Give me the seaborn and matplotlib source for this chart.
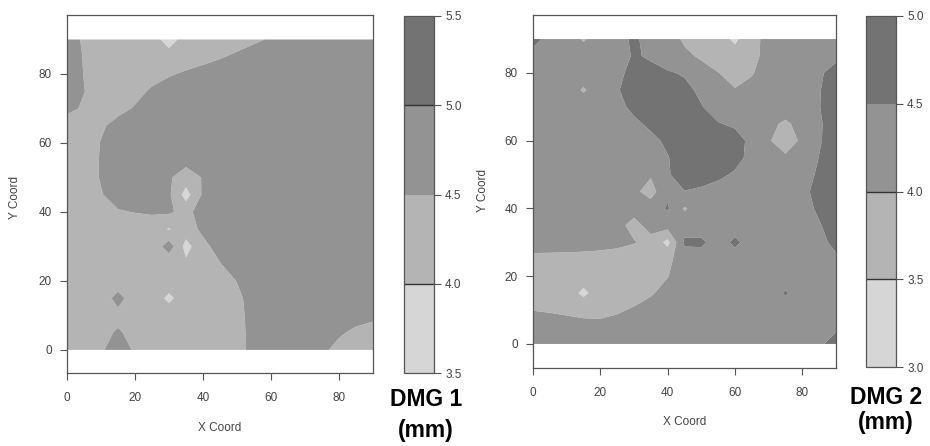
import numpy as np
import matplotlib
matplotlib.use("Agg")
import matplotlib.pyplot as plt
import seaborn as sns

# grid coordinates (X Coord / Y Coord), every 5 units
coords = [0, 5, 10, 15, 20, 25, 30, 35, 40, 45, 50, 55, 60, 65, 70, 75, 80, 85, 90]
axis_ticks = [0, 20, 40, 60, 80]

dmg1_levels = [3.5, 4.0, 4.5, 5.0, 5.5]
dmg2_levels = [3.0, 3.5, 4.0, 4.5, 5.0]
gray_fills = ["#d6d6d6", "#b4b4b4", "#939393", "#737373"]

# DMG 1 (mm), rows from Y=90 (top) down to Y=0, columns X=0..90
dmg1_rows = [
    [4.81, 4.41, 4.1, 4.1, 4.1, 4.1, 3.9, 4.1, 4.1, 4.1, 4.24, 4.40, 4.56, 4.73, 4.9, 4.9, 4.9, 4.9, 4.9],
    [4.86, 4.46, 4.1, 4.1, 4.1, 4.1, 4.1, 4.2, 4.32, 4.45, 4.61, 4.77, 4.9, 4.9, 4.9, 4.9, 4.9, 4.9, 4.9],
    [4.9, 4.48, 4.1, 4.1, 4.1, 4.25, 4.44, 4.58, 4.70, 4.83, 4.9, 4.9, 4.9, 4.9, 4.9, 4.9, 4.9, 4.9, 4.9],
    [4.9, 4.52, 4.12, 4.1, 4.29, 4.60, 4.79, 4.9, 4.9, 4.9, 4.9, 4.9, 4.9, 4.9, 4.9, 4.9, 4.9, 4.9, 4.9],
    [4.7, 4.4, 4.1, 4.3, 4.56, 4.82, 4.9, 4.9, 4.9, 4.9, 4.9, 4.9, 4.9, 4.9, 4.9, 4.9, 4.9, 4.9, 4.9],
    [4.1, 4.1, 4.40, 4.73, 4.9, 4.9, 4.9, 4.9, 4.9, 4.9, 4.9, 4.9, 4.9, 4.9, 4.9, 4.9, 4.9, 4.9, 4.9],
    [4.1, 4.13, 4.53, 4.9, 4.9, 4.9, 4.9, 4.9, 4.9, 4.9, 4.9, 4.9, 4.9, 4.9, 4.9, 4.9, 4.9, 4.9, 4.9],
    [4.1, 4.15, 4.55, 4.9, 4.9, 4.9, 4.8, 4.66, 4.78, 4.9, 4.9, 4.9, 4.9, 4.9, 4.9, 4.9, 4.9, 4.9, 4.9],
    [4.1, 4.15, 4.55, 4.9, 4.9, 4.9, 4.56, 4.26, 4.53, 4.9, 4.9, 4.9, 4.9, 4.9, 4.9, 4.9, 4.9, 4.9, 4.9],
    [4.1, 4.1, 4.46, 4.76, 4.9, 4.9, 4.58, 3.8, 4.58, 4.9, 4.9, 4.9, 4.9, 4.9, 4.9, 4.9, 4.9, 4.9, 4.9],
    [4.1, 4.1, 4.18, 4.45, 4.52, 4.57, 4.57, 4.34, 4.74, 4.9, 4.9, 4.9, 4.9, 4.9, 4.9, 4.9, 4.9, 4.9, 4.9],
    [4.1, 4.1, 4.1, 4.1, 4.14, 4.17, 3.97, 4.26, 4.61, 4.86, 4.9, 4.9, 4.9, 4.9, 4.9, 4.9, 4.9, 4.9, 4.9],
    [4.1, 4.1, 4.1, 4.1, 4.1, 4.1, 4.78, 3.82, 4.36, 4.7, 4.9, 4.9, 4.9, 4.9, 4.9, 4.9, 4.9, 4.9, 4.9],
    [4.1, 4.1, 4.1, 4.1, 4.1, 4.1, 4.1, 4.1, 4.2, 4.48, 4.76, 4.9, 4.9, 4.9, 4.9, 4.9, 4.9, 4.9, 4.9],
    [4.1, 4.1, 4.1, 4.1, 4.1, 4.1, 4.1, 4.1, 4.1, 4.21, 4.52, 4.82, 4.9, 4.9, 4.9, 4.9, 4.9, 4.9, 4.9],
    [4.1, 4.1, 4.1, 4.75, 4.1, 4.1, 3.96, 4.1, 4.1, 4.1, 4.36, 4.76, 4.9, 4.9, 4.9, 4.9, 4.9, 4.9, 4.9],
    [4.1, 4.1, 4.1, 4.3, 4.1, 4.1, 4.1, 4.1, 4.1, 4.1, 4.32, 4.72, 4.9, 4.9, 4.9, 4.9, 4.9, 4.74, 4.64],
    [4.1, 4.1, 4.3, 4.58, 4.3, 4.1, 4.1, 4.1, 4.1, 4.1, 4.3, 4.7, 4.9, 4.9, 4.9, 4.88, 4.58, 4.37, 4.25],
    [4.1, 4.1, 4.4, 4.9, 4.4, 4.1, 4.1, 4.1, 4.1, 4.1, 4.3, 4.7, 4.9, 4.9, 4.9, 4.62, 4.32, 4.1, 4.1],
]

# DMG 2 (mm), rows from Y=90 (top) down to Y=0, columns X=0..90
dmg2_rows = [
    [4.75, 4.25, 4.25, 3.95, 4.25, 4.34, 4.58, 4.33, 4.19, 3.94, 3.75, 3.75, 3.39, 3.875, 4.125, 4.25, 4.25, 4.25, 4.25],
    [4.25, 4.25, 4.25, 4.25, 4.25, 4.25, 4.56, 4.43, 4.28, 4.08, 3.945, 3.8, 3.75, 3.885, 4.135, 4.25, 4.25, 4.25, 4.39],
    [4.25, 4.25, 4.25, 4.25, 4.25, 4.39, 4.64, 4.65, 4.54, 4.46, 4.15, 4.01, 3.85, 3.97, 4.2, 4.25, 4.25, 4.43, 4.68],
    [4.25, 4.25, 4.25, 3.95, 4.25, 4.46, 4.72, 4.75, 4.75, 4.6, 4.42, 4.22, 4.02, 4.12, 4.25, 4.25, 4.25, 4.475, 4.72],
    [4.25, 4.25, 4.25, 4.25, 4.25, 4.385, 4.6, 4.75, 4.75, 4.75, 4.52, 4.33, 4.25, 4.25, 4.22, 4.19, 4.25, 4.485, 4.73],
    [4.25, 4.25, 4.25, 4.25, 4.25, 4.25, 4.42, 4.58, 4.7, 4.75, 4.68, 4.52, 4.44, 4.3, 4.09, 3.94, 4.13, 4.45, 4.7],
    [4.25, 4.25, 4.25, 4.25, 4.25, 4.25, 4.25, 4.4, 4.575, 4.7, 4.75, 4.75, 4.65, 4.4, 4.035, 3.8, 4.075, 4.46, 4.71],
    [4.25, 4.25, 4.25, 4.25, 4.25, 4.25, 4.25, 4.25, 4.48, 4.7, 4.75, 4.75, 4.63, 4.38, 4.15, 4.06, 4.17, 4.51, 4.75],
    [4.25, 4.25, 4.25, 4.25, 4.25, 4.25, 4.25, 4.055, 4.46, 4.7, 4.67, 4.585, 4.45, 4.3, 4.25, 4.25, 4.32, 4.57, 4.75],
    [4.25, 4.25, 4.25, 4.25, 4.25, 4.25, 4.11, 3.8, 4.42, 4.49, 4.435, 4.35, 4.3, 4.25, 4.25, 4.25, 4.39, 4.64, 4.75],
    [4.25, 4.25, 4.25, 4.25, 4.25, 4.25, 4.12, 4.25, 4.55, 3.95, 4.25, 4.25, 4.25, 4.25, 4.25, 4.25, 4.33, 4.58, 4.75],
    [4.25, 4.25, 4.25, 4.25, 4.25, 4.095, 3.9, 4.11, 4.2, 4.25, 4.25, 4.25, 4.25, 4.25, 4.25, 4.25, 4.25, 4.465, 4.71],
    [4.16, 4.16, 4.145, 4.135, 4.115, 4.09, 4.02, 3.9, 3.35, 4.6, 4.6, 4.25, 4.62, 4.25, 4.25, 4.25, 4.25, 4.39, 4.6],
    [3.91, 3.9, 3.9, 3.89, 3.875, 3.84, 3.8, 3.75, 3.91, 4.2, 4.25, 4.25, 4.25, 4.25, 4.25, 4.25, 4.25, 4.3, 4.435],
    [3.75, 3.75, 3.75, 3.75, 3.75, 3.75, 3.75, 3.75, 3.985, 4.25, 4.25, 4.25, 4.25, 4.25, 4.25, 4.25, 4.25, 4.25, 4.25],
    [3.75, 3.75, 3.75, 3.39, 3.75, 3.77, 3.83, 3.955, 4.15, 4.25, 4.25, 4.25, 4.25, 4.25, 4.25, 4.55, 4.25, 4.25, 4.25],
    [3.99, 3.96, 3.92, 3.88, 3.88, 3.95, 4.045, 4.17, 4.25, 4.25, 4.25, 4.25, 4.25, 4.25, 4.25, 4.25, 4.25, 4.25, 4.25],
    [4.25, 4.21, 4.17, 4.13, 4.11, 4.15, 4.25, 4.25, 4.25, 4.25, 4.25, 4.25, 4.25, 4.25, 4.25, 4.25, 4.25, 4.32, 4.425],
    [4.25, 4.25, 4.25, 4.25, 4.25, 4.25, 4.25, 4.25, 4.25, 4.25, 4.25, 4.25, 4.25, 4.25, 4.25, 4.25, 4.25, 4.425, 4.675],
]

sns.set_theme(style="white")
plt.rcParams["font.family"] = ["Liberation Sans", "DejaVu Sans"]

W, H = 930, 446
fig = plt.figure(figsize=(W / 100, H / 100), dpi=100)


def rect(x0, y_top, x1, y_bot):
    return [x0 / W, 1 - y_bot / H, (x1 - x0) / W, (y_bot - y_top) / H]


def draw_panel(rows, levels, ax_px, ylim, cb_px, cb_lines, title, title_xy, mm_xy, xlab_xy, ylab_xy):
    ax = fig.add_axes(rect(*ax_px))
    Z = np.array(rows)[::-1]
    cs = ax.contourf(coords, coords, Z, levels=levels, colors=gray_fills, antialiased=True)
    ax.set_xlim(0, 90)
    ax.set_ylim(*ylim)
    ax.set_facecolor("white")
    ax.set_xticks(axis_ticks)
    ax.set_yticks(axis_ticks)
    for s in ax.spines.values():
        s.set_color("#555555")
        s.set_linewidth(0.9)
    ax.tick_params(axis="x", bottom=True, direction="out", length=5, width=0.8,
                   color="#555555", labelsize=8.5, labelcolor="#444444", pad=9)
    ax.tick_params(axis="y", left=True, direction="out", length=5, width=0.8,
                   color="#555555", labelsize=8.5, labelcolor="#444444", pad=6)

    cax = fig.add_axes(rect(*cb_px))
    cb = fig.colorbar(cs, cax=cax, ticks=levels)
    cb.outline.set_edgecolor("#555555")
    cb.outline.set_linewidth(0.9)
    cax.tick_params(axis="y", right=True, direction="out", length=5, width=0.8,
                    color="#555555", labelsize=8.5, labelcolor="#444444", pad=3)
    cb.set_ticklabels([f"{v:.1f}" for v in levels])
    for v in cb_lines:
        cax.axhline(v, color="#333333", lw=1.0)

    fig.text(xlab_xy[0] / W, 1 - xlab_xy[1] / H, "X Coord", ha="center", va="center",
             fontsize=8.5, color="#444444")
    fig.text(ylab_xy[0] / W, 1 - ylab_xy[1] / H, "Y Coord", ha="center", va="center",
             fontsize=8.5, color="#444444", rotation=90)
    fig.text(title_xy[0] / W, 1 - title_xy[1] / H, title, ha="center", va="center",
             fontsize=16.5, fontweight="bold", color="black")
    fig.text(mm_xy[0] / W, 1 - mm_xy[1] / H, "(mm)", ha="center", va="center",
             fontsize=16.5, fontweight="bold", color="black")


draw_panel(dmg1_rows, dmg1_levels, (67, 15, 373, 373), (-6.7, 97.1),
           (404, 16, 434, 373), [4.0, 5.0], "DMG 1", (426, 399), (426, 430),
           (220, 428), (15, 197))
draw_panel(dmg2_rows, dmg2_levels, (533, 15, 836, 368), (-7.1, 97.1),
           (866, 16, 896, 367), [3.5, 4.0], "DMG 2", (886, 398), (886, 423),
           (685, 422), (483, 190))

fig.savefig("out.png", dpi=100)
